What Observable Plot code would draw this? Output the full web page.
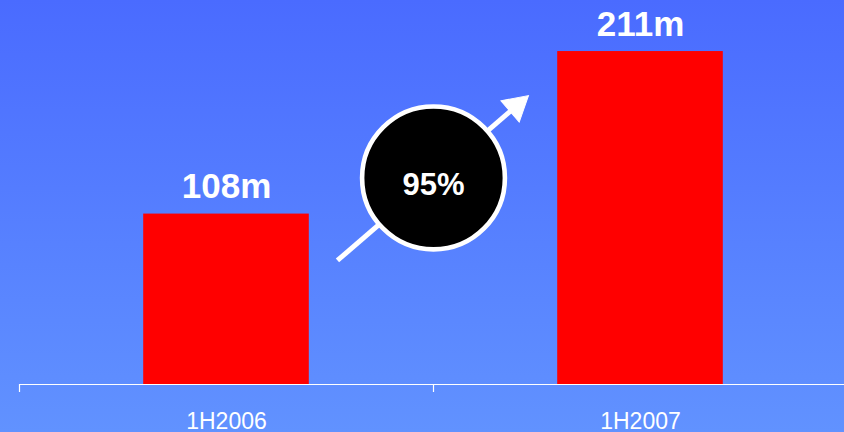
<!DOCTYPE html>
<html>
<head>
<meta charset="utf-8">
<script src="https://cdn.jsdelivr.net/npm/d3@7"></script>
<script src="https://cdn.jsdelivr.net/npm/@observablehq/plot@0.6"></script>
<style>
  html, body { margin: 0; padding: 0; }
  body { width: 844px; height: 432px; overflow: hidden; }
  svg { display: block; }
</style>
</head>
<body>
<div id="chart"></div>
<script>
// Data
const categories = ["1H2006", "1H2007"];
const values = [108, 211];
const valueLabels = ["108m", "211m"];
const growthLabel = "95%";
// annotation (x in category-slot units, y in value units)
const arrowFrom = {x: 0.768, y: 78.6};
const arrowTo = {x: 1.2295, y: 183.1};
const badge = {x: 1.0, y: 130.9};

const bars = categories.map((c, i) => ({
  cat: c, i, value: values[i], label: valueLabels[i],
  x1: i + 0.3, x2: i + 0.7, xc: i + 0.5
}));

const font = "'Liberation Sans', Arial, Helvetica, sans-serif";

const chart = Plot.plot({
  width: 844,
  height: 432,
  marginLeft: 19,
  marginRight: 0,
  marginTop: 0,
  marginBottom: 48,
  x: {type: "linear", domain: [0, 2], range: [19, 847], axis: null},
  y: {domain: [0, 243.35], axis: null},
  style: {
    background: "linear-gradient(to bottom, #4a6bff 0%, #6192ff 100%)",
    fontFamily: font,
    overflow: "visible"
  },
  marks: [
    Plot.rectY(bars, {x1: "x1", x2: "x2", y1: 0, y2: "value", fill: "#ff0000"}),
    Plot.ruleY([0], {stroke: "white", strokeWidth: 1.2}),
    Plot.axisX({ticks: [0, 1, 2], tickSize: 8, tickFormat: () => "", stroke: "white", strokeWidth: 1.2, strokeOpacity: 1}),
    Plot.text(bars, {x: "xc", y: 0, text: "cat", lineAnchor: "bottom", dy: 44,
      fill: "white", fontSize: 23, fontFamily: font}),
    Plot.text(bars, {x: "xc", y: "value", text: "label", lineAnchor: "bottom", dy: -16,
      fill: "white", fontSize: 35, fontWeight: "bold", fontFamily: font}),
    Plot.arrow([{}], {x1: arrowFrom.x, y1: arrowFrom.y, x2: arrowTo.x, y2: arrowTo.y,
      stroke: "white", strokeWidth: 5, headLength: 0, insetEnd: 14, strokeLinecap: "butt"}),
    Plot.dot([{}], {x: arrowTo.x, y: arrowTo.y, symbol: "triangle", r: 10.4, rotate: 49.3,
      dx: -12.3, dy: 10.6, fill: "white", stroke: "white", strokeWidth: 1}),
    Plot.dot([badge], {x: "x", y: "y", r: 71.4, fill: "black", stroke: "white", strokeWidth: 4.6}),
    Plot.text([badge], {x: "x", y: "y", text: () => growthLabel, fill: "white",
      fontSize: 31, fontWeight: "bold", fontFamily: font, lineAnchor: "bottom", dy: 17.5})
  ]
});
document.getElementById("chart").appendChild(chart);
</script>
</body>
</html>
